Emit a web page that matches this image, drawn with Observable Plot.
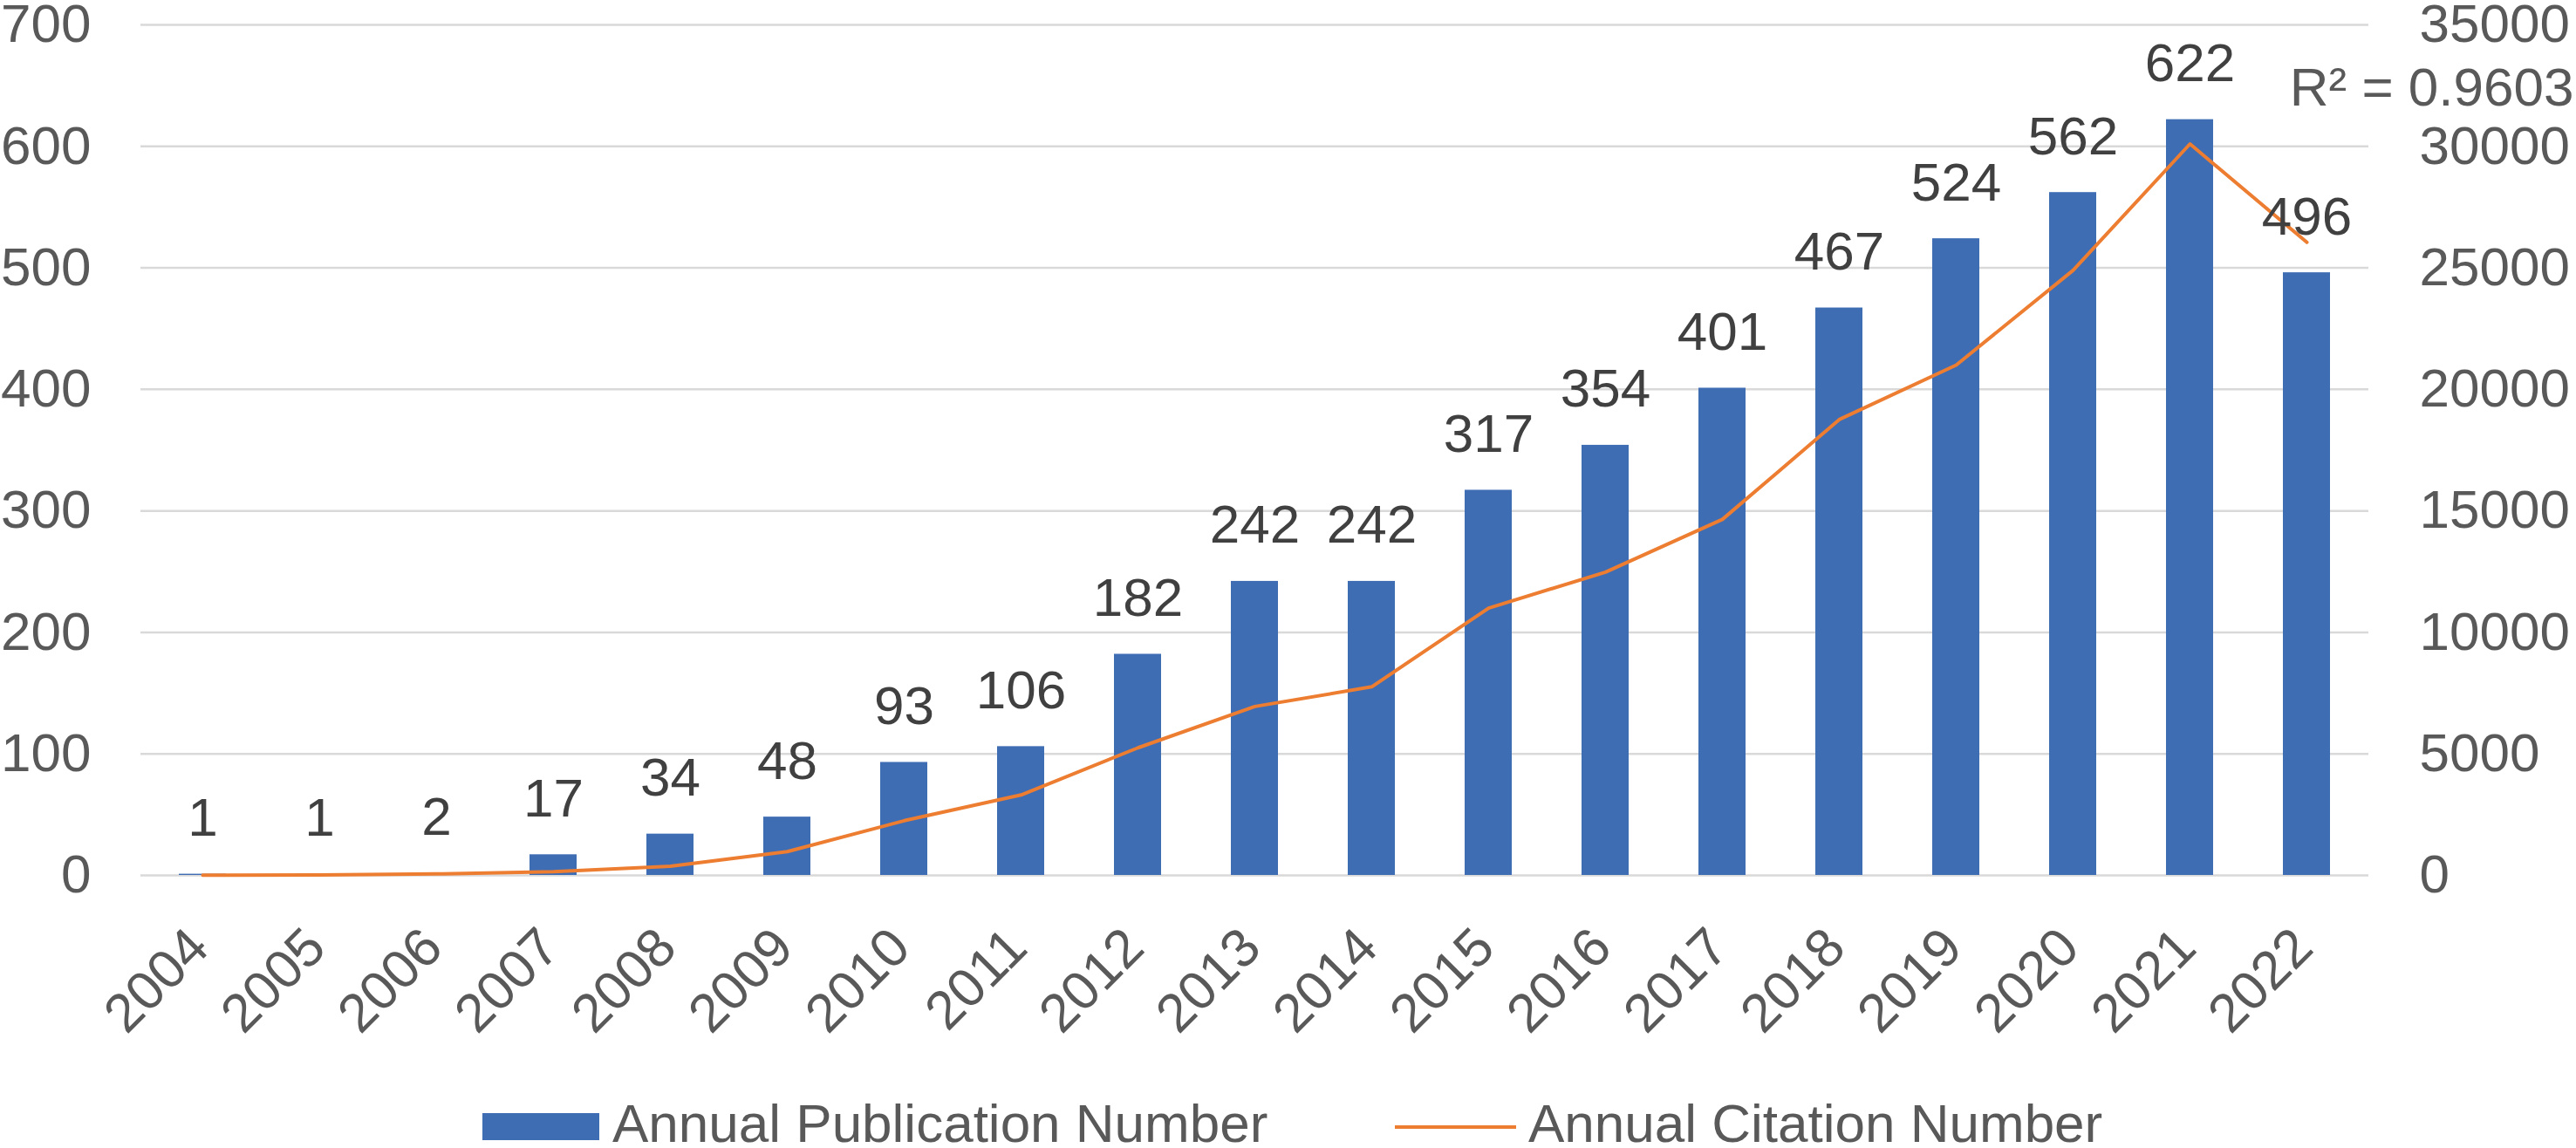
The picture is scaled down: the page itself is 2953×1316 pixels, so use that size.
<!DOCTYPE html>
<html>
<head>
<meta charset="utf-8">
<script src="https://cdn.jsdelivr.net/npm/d3@7"></script>
<script src="https://cdn.jsdelivr.net/npm/@observablehq/plot@0.6"></script>
<style>
  html, body { margin: 0; padding: 0; background: #ffffff; }
  #wrap { position: relative; width: 2953px; height: 1316px; overflow: hidden;
          font-family: "Liberation Sans", Arial, sans-serif; background: #fff; }
  #chart { position: absolute; left: 0; top: 0; }
  .lg-text { position: absolute; top: 1263px; font-size: 62px; line-height: 50px; color: #595959; white-space: nowrap; }
  .lg-bar { position: absolute; left: 553px; top: 1276px; width: 134px; height: 31px; background: #3e6db4; }
  .lg-line { position: absolute; left: 1599px; top: 1290px; width: 139px; height: 4px; background: #ed7d31; }
</style>
</head>
<body>
<div id="wrap">
  <div id="chart"></div>
  <div class="lg-bar"></div>
  <div class="lg-text" id="lg1" style="left:702px;"></div>
  <div class="lg-line"></div>
  <div class="lg-text" id="lg2" style="left:1752px;"></div>
</div>
<script>
// ---- data ----
const years = ["2004","2005","2006","2007","2008","2009","2010","2011","2012","2013",
               "2014","2015","2016","2017","2018","2019","2020","2021","2022"];
const publications = [1, 1, 2, 17, 34, 48, 93, 106, 182, 242, 242, 317, 354, 401, 467, 524, 562, 622, 496];
const citations = [10, 20, 60, 150, 380, 980, 2250, 3310, 5250, 6950, 7760, 11000, 12480, 14650, 18760, 21000, 24900, 30100, 26050];
const leftTicks = [0, 100, 200, 300, 400, 500, 600, 700];
const rightMax = 35000;
const leftMax = 700;
const seriesNames = ["Annual Publication Number", "Annual Citation Number"];
const r2Label = "R\u00B2 = 0.9603";

// ---- build ----
const ratio = leftMax / rightMax;
const data = years.map((year, i) => ({year, pubs: publications[i], cites: citations[i]}));

document.getElementById("lg1").textContent = seriesNames[0];
document.getElementById("lg2").textContent = seriesNames[1];

const axisColor = "#595959";
const fs = 62;
const chart = Plot.plot({
  width: 2953,
  height: 1240,
  marginTop: 28,
  marginBottom: 237,
  marginLeft: 161,
  marginRight: 238,
  style: {fontFamily: "'Liberation Sans', Arial, sans-serif", fontSize: fs + "px", background: "#ffffff", overflow: "visible"},
  x: {type: "band", domain: years, paddingInner: 0.6, paddingOuter: 0.3, axis: null},
  y: {domain: [0, leftMax], axis: null},
  marks: [
    Plot.gridY(leftTicks, {stroke: "#d9d9d9", strokeOpacity: 1, strokeWidth: 2.5}),
    Plot.barY(data, {x: "year", y: "pubs", fill: "#3e6db4"}),
    Plot.lineY(data, {x: "year", y: d => d.cites * ratio, stroke: "#ed7d31", strokeWidth: 4, strokeLinejoin: "round"}),
    Plot.text(data, {x: "year", y: "pubs", text: d => String(d.pubs), dy: -44, lineAnchor: "bottom", fill: "#404040", fontSize: fs}),
    Plot.axisY(leftTicks, {anchor: "left", label: null, tickSize: 0, tickPadding: 57, fill: axisColor, fontSize: fs}),
    Plot.axisY(leftTicks, {anchor: "right", label: null, tickSize: 0, tickPadding: 58, textAnchor: "start",
                           tickFormat: d => String(Math.round(d / ratio)), fill: axisColor, fontSize: fs}),
    Plot.text(years, {x: d => d, text: d => d, frameAnchor: "bottom", dx: 10, dy: 86, rotate: -45,
                      textAnchor: "end", lineAnchor: "bottom", fill: axisColor, fontSize: fs}),
    Plot.text([r2Label], {text: d => d, frameAnchor: "top-right", dx: 235, dy: 92, textAnchor: "end",
                          lineAnchor: "bottom", fill: axisColor, fontSize: fs})
  ]
});
document.getElementById("chart").appendChild(chart);
</script>
</body>
</html>
